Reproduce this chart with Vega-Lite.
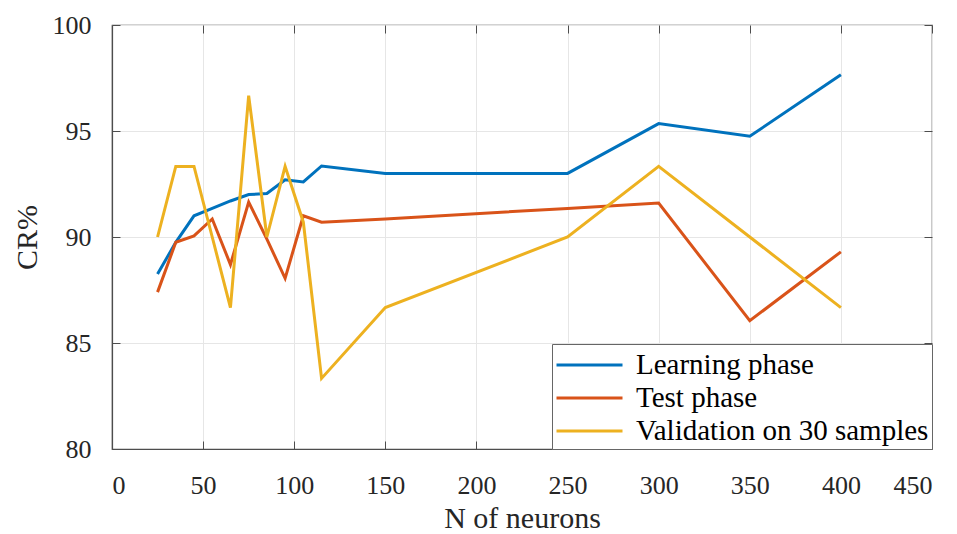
{
  "$schema": "https://vega.github.io/schema/vega-lite/v6.json",
  "width": 820,
  "height": 424,
  "autosize": "none",
  "padding": {"left": 112, "top": 25, "right": 25, "bottom": 85},
  "background": "white",
  "config": {
    "font": "Liberation Serif",
    "view": {"stroke": "#4d4d4d", "strokeWidth": 1.2}
  },
  "data": {
    "values": [
      {"n": 25, "series": "Learning phase", "cr": 88.25},
      {"n": 35, "series": "Learning phase", "cr": 89.75},
      {"n": 45, "series": "Learning phase", "cr": 91.0},
      {"n": 55, "series": "Learning phase", "cr": 91.35},
      {"n": 65, "series": "Learning phase", "cr": 91.7},
      {"n": 75, "series": "Learning phase", "cr": 92.0},
      {"n": 85, "series": "Learning phase", "cr": 92.05},
      {"n": 95, "series": "Learning phase", "cr": 92.7},
      {"n": 105, "series": "Learning phase", "cr": 92.6},
      {"n": 115, "series": "Learning phase", "cr": 93.35},
      {"n": 150, "series": "Learning phase", "cr": 93.0},
      {"n": 250, "series": "Learning phase", "cr": 93.0},
      {"n": 300, "series": "Learning phase", "cr": 95.35},
      {"n": 350, "series": "Learning phase", "cr": 94.75},
      {"n": 400, "series": "Learning phase", "cr": 97.65},
      {"n": 25, "series": "Test phase", "cr": 87.4},
      {"n": 35, "series": "Test phase", "cr": 89.75},
      {"n": 45, "series": "Test phase", "cr": 90.05},
      {"n": 55, "series": "Test phase", "cr": 90.85},
      {"n": 65, "series": "Test phase", "cr": 88.7},
      {"n": 75, "series": "Test phase", "cr": 91.65},
      {"n": 85, "series": "Test phase", "cr": 89.9},
      {"n": 95, "series": "Test phase", "cr": 88.05},
      {"n": 105, "series": "Test phase", "cr": 91.0},
      {"n": 115, "series": "Test phase", "cr": 90.7},
      {"n": 150, "series": "Test phase", "cr": 90.85},
      {"n": 250, "series": "Test phase", "cr": 91.35},
      {"n": 300, "series": "Test phase", "cr": 91.6},
      {"n": 350, "series": "Test phase", "cr": 86.05},
      {"n": 400, "series": "Test phase", "cr": 89.3},
      {"n": 25, "series": "Validation on 30 samples", "cr": 90.0},
      {"n": 35, "series": "Validation on 30 samples", "cr": 93.33},
      {"n": 45, "series": "Validation on 30 samples", "cr": 93.33},
      {"n": 55, "series": "Validation on 30 samples", "cr": 90.0},
      {"n": 65, "series": "Validation on 30 samples", "cr": 86.67},
      {"n": 75, "series": "Validation on 30 samples", "cr": 96.67},
      {"n": 85, "series": "Validation on 30 samples", "cr": 90.0},
      {"n": 95, "series": "Validation on 30 samples", "cr": 93.33},
      {"n": 105, "series": "Validation on 30 samples", "cr": 90.7},
      {"n": 115, "series": "Validation on 30 samples", "cr": 83.33},
      {"n": 150, "series": "Validation on 30 samples", "cr": 86.67},
      {"n": 250, "series": "Validation on 30 samples", "cr": 90.0},
      {"n": 300, "series": "Validation on 30 samples", "cr": 93.33},
      {"n": 350, "series": "Validation on 30 samples", "cr": 90.0},
      {"n": 400, "series": "Validation on 30 samples", "cr": 86.67}
    ]
  },
  "layer": [
    {
      "mark": {"type": "line", "strokeWidth": 3, "strokeJoin": "miter"},
      "encoding": {
        "x": {
          "field": "n",
          "type": "quantitative",
          "scale": {"domain": [0, 450], "nice": false, "zero": false},
          "axis": {
            "title": "N of neurons",
            "values": [0, 50, 100, 150, 200, 250, 300, 350, 400, 450],
            "grid": true,
            "gridColor": "#e6e6e6",
            "gridWidth": 1,
            "domainColor": "#4d4d4d",
            "domainWidth": 1.2,
            "tickColor": "#4d4d4d",
            "tickSize": -8,
            "labelPadding": 31,
            "labelFont": "Liberation Serif",
            "labelFontSize": 26,
            "labelColor": "#262626",
            "titleFont": "Liberation Serif",
            "titleFontSize": 30,
            "titleFontWeight": "normal",
            "titleColor": "#262626",
            "titlePadding": 5
          }
        },
        "y": {
          "field": "cr",
          "type": "quantitative",
          "scale": {"domain": [80, 100], "nice": false, "zero": false},
          "axis": {
            "title": "CR%",
            "values": [80, 85, 90, 95, 100],
            "grid": true,
            "gridColor": "#e6e6e6",
            "gridWidth": 1,
            "domainColor": "#4d4d4d",
            "domainWidth": 1.2,
            "tickColor": "#4d4d4d",
            "tickSize": -8,
            "labelPadding": 29,
            "labelFont": "Liberation Serif",
            "labelFontSize": 26,
            "labelColor": "#262626",
            "titleFont": "Liberation Serif",
            "titleFontSize": 30,
            "titleFontWeight": "normal",
            "titleColor": "#262626",
            "titlePadding": 10
          }
        },
        "color": {
          "field": "series",
          "type": "nominal",
          "scale": {
            "domain": ["Learning phase", "Test phase", "Validation on 30 samples"],
            "range": ["#0072BD", "#D95319", "#EDB120"]
          },
          "legend": {
            "title": null,
            "orient": "bottom-right",
            "offset": 0,
            "symbolType": "M-1,0H3",
            "symbolSize": 1089,
            "symbolStrokeWidth": 3,
            "labelFont": "Liberation Serif",
            "labelFontSize": 29,
            "labelColor": "#000000",
            "labelOffset": 45,
            "labelLimit": 0,
            "strokeColor": "#666666",
            "fillColor": "white",
            "padding": 3,
            "rowPadding": 0
          }
        }
      }
    },
    {
      "mark": {"type": "point", "opacity": 0},
      "encoding": {
        "x": {
          "field": "n",
          "type": "quantitative",
          "scale": {"domain": [0, 450], "nice": false, "zero": false},
          "axis": {
            "orient": "top",
            "title": null,
            "labels": false,
            "grid": false,
            "domain": false,
            "values": [0, 50, 100, 150, 200, 250, 300, 350, 400, 450],
            "tickColor": "#4d4d4d",
            "tickSize": -8
          }
        },
        "y": {
          "field": "cr",
          "type": "quantitative",
          "scale": {"domain": [80, 100], "nice": false, "zero": false},
          "axis": {
            "orient": "right",
            "title": null,
            "labels": false,
            "grid": false,
            "domain": false,
            "values": [80, 85, 90, 95, 100],
            "tickColor": "#4d4d4d",
            "tickSize": -8
          }
        }
      }
    }
  ],
  "resolve": {"axis": {"x": "independent", "y": "independent"}}
}
